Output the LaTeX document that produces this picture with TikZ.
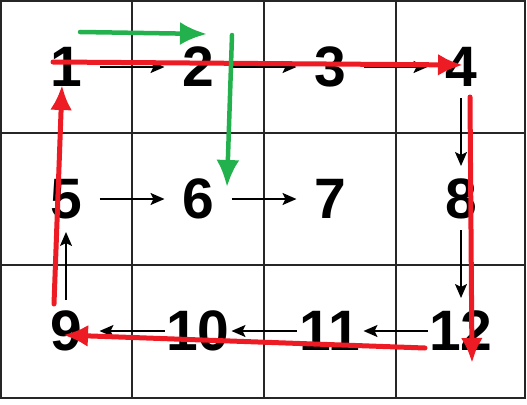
\documentclass[tikz,border=0pt]{standalone}
\usepackage{fontspec}
\setmainfont{Liberation Sans}
\usetikzlibrary{arrows.meta}

\definecolor{pathred}{HTML}{ED1C24}
\definecolor{pathgreen}{HTML}{22B14C}

\begin{document}
\begin{tikzpicture}[
		x=1pt, y=-1pt,
		num/.style={inner sep=0pt, font=\fontsize{57}{60}\selectfont\bfseries},
		gridline/.style={line width=2.4pt, black!85},
		link/.style={-{Stealth[length=14pt, width=12pt, inset=3pt]}, line width=1.9pt},
		hlink/.style={link, shorten <=33.5pt, shorten >=33.5pt},
		vlink/.style={link, shorten <=31pt, shorten >=33pt},
		redmark/.style={-{Latex[length=25pt, width=22pt]}, line width=5pt, line cap=round, pathred},
		greenmark/.style={-{Latex[length=27pt, width=23pt]}, line width=4.5pt, line cap=round, pathgreen},
	]
		\useasboundingbox (0,0) rectangle (527,404);

		% grid
		\draw[gridline] (1,1) rectangle (525,398);
		\draw[gridline] (132,1) -- (132,398);
		\draw[gridline] (264,1) -- (264,398);
		\draw[gridline] (396,1) -- (396,398);
		\draw[gridline] (1,133) -- (525,133);
		\draw[gridline] (1,265) -- (525,265);

		% numbers
		\node[num] (n1) at (66,67) {1};
		\node[num] (n2) at (198,67) {2};
		\node[num] (n3) at (330,67) {3};
		\node[num] (n4) at (461,67) {4};
		\node[num] (n5) at (66,199) {5};
		\node[num] (n6) at (198,199) {6};
		\node[num] (n7) at (330,199) {7};
		\node[num] (n8) at (461,199) {8};
		\node[num] (n9) at (66,331) {9};
		\node[num] (n10) at (198,331) {10};
		\node[num] (n11) at (330,331) {11};
		\node[num] (n12) at (461,331) {12};

		% black arrows
		\draw[hlink] (n1.center) -- (n2.center);
		\draw[hlink] (n2.center) -- (n3.center);
		\draw[hlink] (n3.center) -- (n4.center);
		\draw[hlink] (n5.center) -- (n6.center);
		\draw[hlink] (n6.center) -- (n7.center);
		\draw[vlink] (n4.center) -- (n8.center);
		\draw[vlink] (n8.center) -- (n12.center);
		\draw[hlink] (n12.center) -- (n11.center);
		\draw[hlink] (n11.center) -- (n10.center);
		\draw[hlink] (n10.center) -- (n9.center);
		\draw[vlink] (n9.center) -- (n5.center);

		% red path
		\coordinate (ra) at (53,62);
		\coordinate (rb) at (463,65);
		\coordinate (rc) at (470,97);
		\coordinate (rd) at (472,363);
		\coordinate (re) at (425,348);
		\coordinate (rf) at (63,335);
		\coordinate (rg) at (54,304);
		\coordinate (rh) at (62,85);
		\draw[redmark] (ra) -- (rb);
		\draw[redmark] (rc) -- (rd);
		\draw[redmark] (re) -- (rf);
		\draw[redmark] (rg) -- (rh);

		% green path
		\coordinate (ga) at (80,32);
		\coordinate (gb) at (207,34);
		\coordinate (gc) at (232,35);
		\coordinate (gd) at (227,187);
		\draw[greenmark] (ga) -- (gb);
		\draw[greenmark] (gc) -- (gd);
	\end{tikzpicture}
\end{document}
